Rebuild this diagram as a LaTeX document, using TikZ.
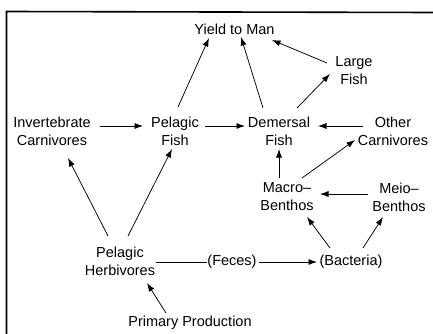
\documentclass[tikz,border=0pt]{standalone}
\usepackage{fontspec}
\setmainfont{Liberation Sans}
\usetikzlibrary{calc,arrows.meta}
\begin{document}
\begin{tikzpicture}[x=1pt,y=-1pt,
  every node/.style={font=\fontsize{14.5}{18}\selectfont, align=center, inner sep=0pt},
  arr/.style={line width=0.75pt, -{Latex[length=8.5pt,width=6pt]}},
  ln/.style={line width=0.75pt},
  frame/.style={line width=1.6pt}]
\useasboundingbox (0,0) rectangle (433,334);
\coordinate (fbl) at (6.5,334);
\coordinate (ftl) at (6.5,11.5);
\coordinate (ftr) at (433,12.5);
\draw[frame] (fbl) -- (ftl) -- (ftr);

\node (ym) at (234.5,29) {Yield to Man};
\node (lf) at (354,71) {Large\\Fish};
\node (ic) at (52,131) {Invertebrate\\Carnivores};
\node (pf) at (175,131) {Pelagic\\Fish};
\node (df) at (279,131) {Demersal\\Fish};
\node (oc) at (393,131) {Other\\Carnivores};
\node (mb) at (287,197) {Macro–\\Benthos};
\node (me) at (399,197) {Meio–\\Benthos};
\node (ph) at (120,261) {Pelagic\\Herbivores};
\node (fe) at (232,262) {(Feces)};
\node (ba) at (351,262) {(Bacteria)};
\node (pp) at (190,323) {Primary Production};

\draw[arr] ($(pf)+(3,-24)$) -- ($(ym)+(-25.5,9)$);
\draw[arr] ($(df)+(-16,-23)$) -- ($(ym)+(6.5,8)$);
\draw[arr] ($(lf)+(-27,-8)$) -- ($(ym)+(37.5,11)$);
\draw[arr] ($(df)+(18,-23)$) -- ($(lf)+(-24,3)$);
\draw[arr] ($(ic)+(48,-5)$) -- ($(pf)+(-32,-5)$);
\draw[arr] ($(pf)+(30,-5)$) -- ($(df)+(-34,-5)$);
\draw[arr] ($(oc)+(-30,-5)$) -- ($(df)+(39,-5)$);
\draw[arr] ($(ph)+(-12,-25)$) -- ($(ic)+(16,27)$);
\draw[arr] ($(ph)+(8,-25)$) -- ($(pf)+(-3,18)$);
\draw[arr] ($(mb)+(-8,-19)$) -- ($(df)+(0,18)$);
\draw[arr] ($(mb)+(15,-19)$) -- ($(oc)+(-38,9)$);
\draw[arr] ($(me)+(-31,-3)$) -- ($(mb)+(33,-3)$);
\draw[arr] ($(ba)+(-21,-14)$) -- ($(mb)+(20,20)$);
\draw[arr] ($(ba)+(12,-14)$) -- ($(me)+(-16,20)$);
\draw[ln] ($(ph)+(36,1)$) -- ($(fe)+(-25,0)$);
\draw[arr] ($(fe)+(27,0)$) -- ($(ba)+(-34,0)$);
\draw[arr] ($(pp)+(-24,-10)$) -- ($(ph)+(27,22)$);
\end{tikzpicture}
\end{document}
